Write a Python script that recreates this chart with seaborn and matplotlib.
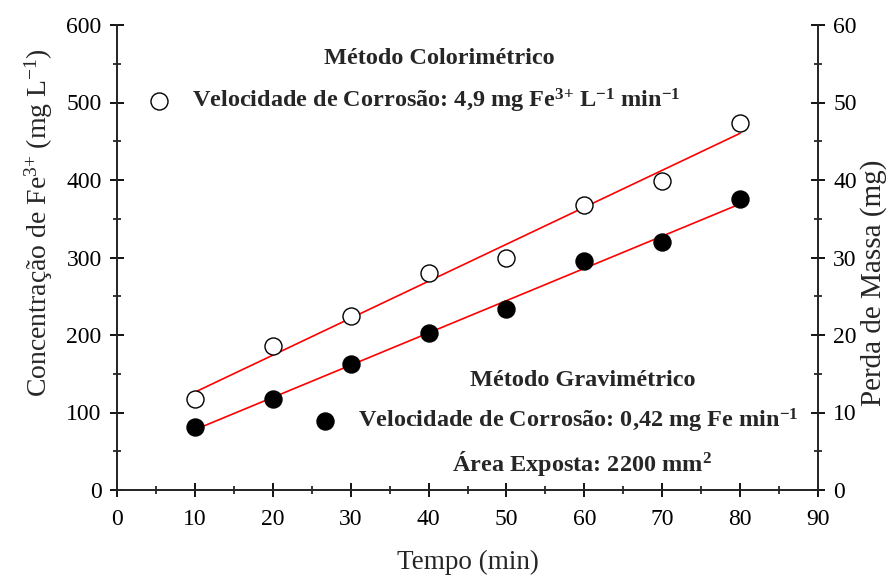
import numpy as np
import pandas as pd
import seaborn as sns
import matplotlib.pyplot as plt
from matplotlib.ticker import MultipleLocator

# Data
tempo = [10, 20, 30, 40, 50, 60, 70, 80]
conc_fe = [117, 186, 224, 280, 299, 368, 399, 473]        # mg L-1 (left axis, open)
perda_massa = [8.1, 11.8, 16.3, 20.2, 23.4, 29.5, 32.0, 37.5]  # mg (right axis, filled)

df = pd.DataFrame({'tempo': tempo, 'conc': conc_fe, 'massa': perda_massa})

sns.set_theme(style='ticks')
plt.rcParams['font.family'] = ['Liberation Serif', 'DejaVu Serif']
plt.rcParams['mathtext.fontset'] = 'custom'
plt.rcParams['mathtext.rm'] = 'Liberation Serif'
plt.rcParams['mathtext.it'] = 'Liberation Serif:italic'
plt.rcParams['mathtext.bf'] = 'Liberation Serif:bold'

fig = plt.figure(figsize=(8.89, 5.76), dpi=100)
ax = fig.add_axes([117 / 889, 86 / 576, 701 / 889, 465 / 576])
ax2 = ax.twinx()

# fit lines (seaborn regression, no CI)
sns.regplot(data=df, x='tempo', y='conc', ax=ax, scatter=False, ci=None,
            color='red', line_kws={'linewidth': 1.2})
sns.regplot(data=df, x='tempo', y='massa', ax=ax2, scatter=False, ci=None,
            color='red', line_kws={'linewidth': 1.2})

sns.scatterplot(data=df, x='tempo', y='conc', ax=ax, s=150, marker='o',
                facecolor='white', edgecolor='black', linewidth=1.0, zorder=3,
                label='Velocidade de Corrosão: 4,9 mg Fe$^{\\mathbf{3{+}}}$ L$^{\\mathbf{-1}}$ min$^{\\mathbf{-1}}$')
sns.scatterplot(data=df, x='tempo', y='massa', ax=ax2, s=150, marker='o',
                color='black', edgecolor='black', linewidth=1.0, zorder=3,
                label='Velocidade de Corrosão: 0,42 mg Fe min$^{\\mathbf{-1}}$')

ax.set_xlim(0, 90)
ax.set_ylim(0, 600)
ax2.set_ylim(0, 60)

ax.xaxis.set_major_locator(MultipleLocator(10))
ax.xaxis.set_minor_locator(MultipleLocator(5))
ax.yaxis.set_major_locator(MultipleLocator(100))
ax.yaxis.set_minor_locator(MultipleLocator(50))
ax2.yaxis.set_major_locator(MultipleLocator(10))
ax2.yaxis.set_minor_locator(MultipleLocator(5))

for a in (ax, ax2):
    a.spines['top'].set_visible(False)
    for s in a.spines.values():
        s.set_linewidth(1.3)
    a.tick_params(which='major', direction='inout', length=10, width=1.3,
                  labelsize=17, colors='black', pad=6)
    a.tick_params(which='minor', direction='inout', length=6, width=1.3)
ax.tick_params(axis='y', which='both', right=False)
ax.tick_params(axis='x', which='both', top=False, pad=9)

ax.set_xlabel('Tempo (min)', fontsize=19.5, labelpad=14)
ax.set_ylabel('Concentração de Fe$^{3{+}}$ (mg L$^{-1}$)', fontsize=20, labelpad=8)
ax.yaxis.label.set_y(0.575)
ax2.set_ylabel('Perda de Massa (mg)', fontsize=21, labelpad=2)
ax2.yaxis.label.set_y(0.445)

bold = {'family': 'Liberation Serif', 'weight': 'bold', 'size': 17.5}
leg_kw = dict(frameon=False, borderpad=0, borderaxespad=0, handlelength=0.8,
              handletextpad=0.95, markerscale=1.0, prop=bold,
              loc='center left', bbox_transform=fig.transFigure)

ax.legend(bbox_to_anchor=(149 / 889, (576 - 101) / 576), **leg_kw)
ax2.legend(bbox_to_anchor=(315 / 889, (576 - 421) / 576), **leg_kw)

fig.text(439 / 889, (576 - 59) / 576, 'Método Colorimétrico', ha='center', va='center', fontdict=bold)
fig.text(583 / 889, (576 - 381) / 576, 'Método Gravimétrico', ha='center', va='center', fontdict=bold)
fig.text(452 / 889, (576 - 463) / 576, 'Área Exposta: 2200 mm$^{\\mathbf{2}}$',
         ha='left', va='center', fontdict=bold)

fig.savefig('out.png', dpi=100)
